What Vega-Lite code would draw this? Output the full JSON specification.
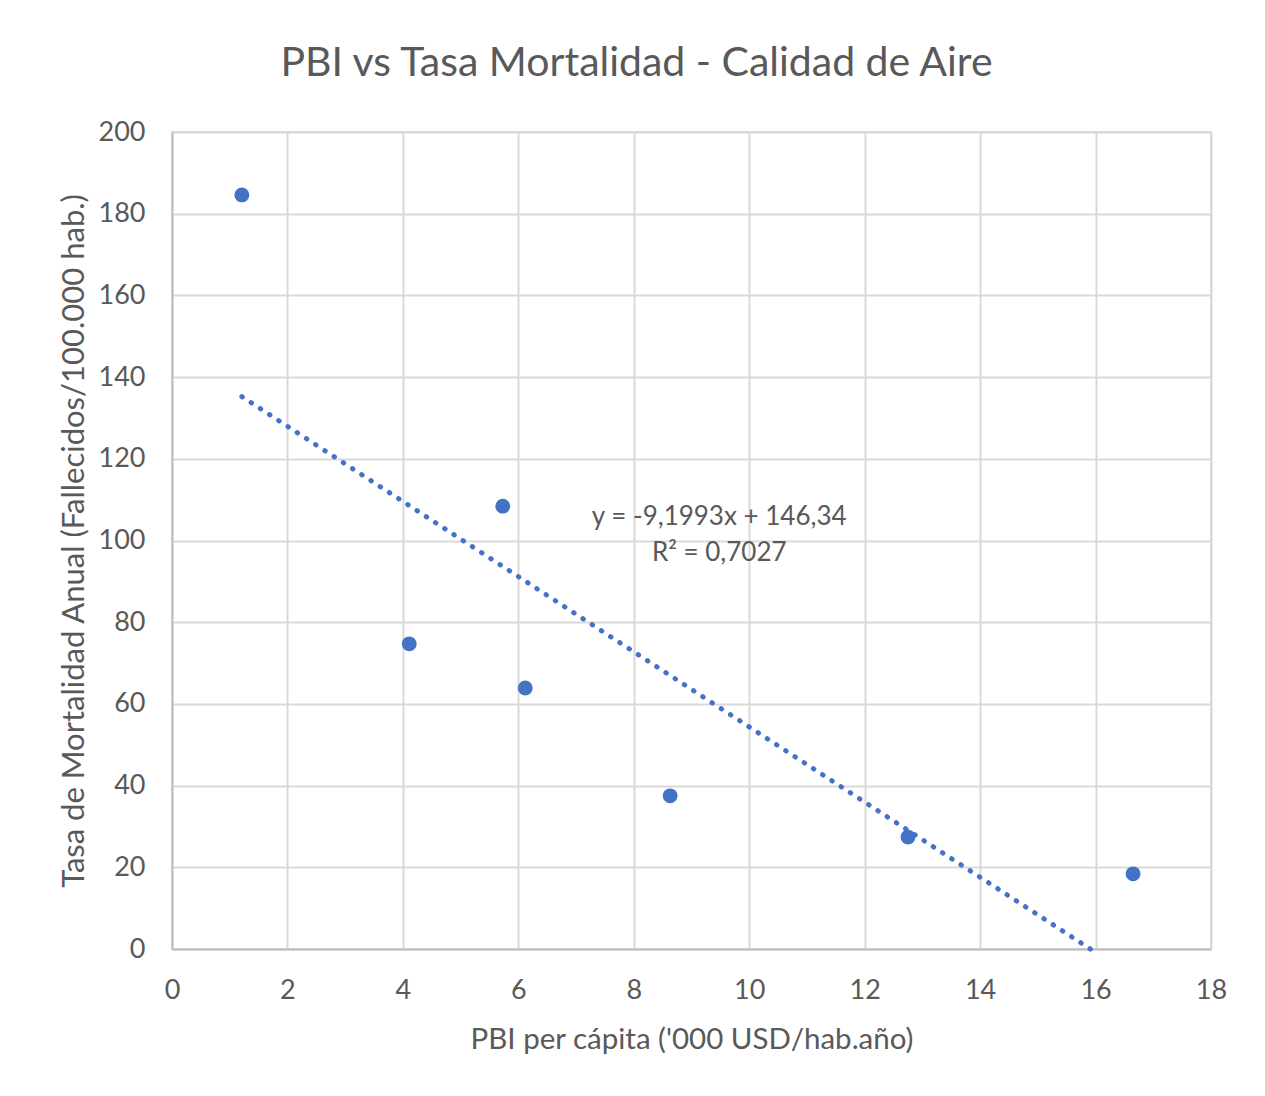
{
  "$schema": "https://vega.github.io/schema/vega-lite/v6.json",
  "autosize": {"type": "none"},
  "width": 1039,
  "height": 817,
  "padding": {"left": 172, "top": 132, "right": 54, "bottom": 147},
  "background": "white",
  "title": {
    "text": "PBI vs Tasa Mortalidad - Calidad de Aire",
    "font": "Lato",
    "fontSize": 41,
    "fontWeight": "normal",
    "color": "#595959",
    "anchor": "middle",
    "dx": -55,
    "offset": 33
  },
  "config": {
    "view": {"stroke": "#d9d9d9", "strokeWidth": 2},
    "axis": {
      "domainColor": "#bfbfbf",
      "domainWidth": 2,
      "gridColor": "#d9d9d9",
      "gridWidth": 2,
      "ticks": false,
      "tickSize": 0,
      "labelFont": "Lato",
      "labelFontSize": 27,
      "labelColor": "#595959",
      "labelFlush": false,
      "titleFont": "Lato",
      "titleFontWeight": "normal",
      "titleColor": "#595959"
    }
  },
  "datasets": {
    "points": [
      {"pbi": 1.21, "tasa": 184.6},
      {"pbi": 4.11, "tasa": 74.7},
      {"pbi": 5.73, "tasa": 108.4},
      {"pbi": 6.12, "tasa": 63.9},
      {"pbi": 8.63, "tasa": 37.5},
      {"pbi": 12.75, "tasa": 27.4},
      {"pbi": 16.65, "tasa": 18.4}
    ],
    "trend": [
      {"pbi": 1.21, "tasa": 135.21},
      {"pbi": 15.91, "tasa": 0}
    ],
    "labels": [
      {"pbi": 9.48, "tasa": 105.7, "label": "y = -9,1993x + 146,34"},
      {"pbi": 9.48, "tasa": 96.9, "label": "R² = 0,7027"}
    ]
  },
  "layer": [
    {
      "data": {"name": "trend"},
      "mark": {"type": "line", "color": "#4472C4", "strokeWidth": 5, "strokeCap": "round", "strokeDash": [0.5, 10.5]},
      "encoding": {
        "x": {"field": "pbi", "type": "quantitative", "scale": {"domain": [0, 18], "nice": false, "zero": true},
          "axis": {"values": [0, 2, 4, 6, 8, 10, 12, 14, 16, 18], "format": "d", "title": "PBI per cápita ('000 USD/hab.año)", "titleFontSize": 29.5, "labelPadding": 28, "titlePadding": 22}},
        "y": {"field": "tasa", "type": "quantitative", "scale": {"domain": [0, 200], "nice": false},
          "axis": {"values": [0, 20, 40, 60, 80, 100, 120, 140, 160, 180, 200], "format": "d", "title": "Tasa de Mortalidad Anual (Fallecidos/100.000 hab.)", "titleFontSize": 31, "labelPadding": 27, "titlePadding": 8}}
      }
    },
    {
      "data": {"name": "points"},
      "mark": {"type": "circle", "color": "#4472C4", "opacity": 1, "size": 220},
      "encoding": {
        "x": {"field": "pbi", "type": "quantitative"},
        "y": {"field": "tasa", "type": "quantitative"}
      }
    },
    {
      "data": {"name": "labels"},
      "mark": {"type": "text", "font": "Lato", "fontSize": 26, "color": "#595959", "align": "center", "baseline": "middle"},
      "encoding": {
        "x": {"field": "pbi", "type": "quantitative"},
        "y": {"field": "tasa", "type": "quantitative"},
        "text": {"field": "label"}
      }
    }
  ]
}
